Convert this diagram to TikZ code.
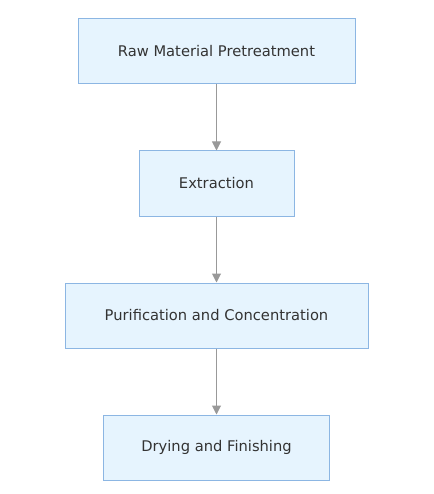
\documentclass[tikz,border=0pt]{standalone}
\usepackage{fontspec}
\setmainfont{DejaVu Sans}
\usetikzlibrary{arrows.meta}
\definecolor{boxfill}{HTML}{E6F4FE}
\definecolor{boxline}{HTML}{8CB6E3}
\definecolor{arrowc}{HTML}{999999}
\begin{document}
\begin{tikzpicture}[x=1pt,y=-1pt,
  stepbox/.style={draw=boxline, fill=boxfill, line width=1pt, minimum height=65pt, inner sep=0pt, font=\fontsize{14.7}{17}\selectfont, text=black!80},
  flow/.style={draw=arrowc, line width=1pt, -{Triangle[length=9pt,width=9pt]}}]
\useasboundingbox (0,0) rectangle (433,494);
\node[stepbox, minimum width=277pt] (a) at (216.5,51.5) {Raw Material Pretreatment};
\node[stepbox, minimum width=155pt] (b) at (216.5,183.5) {Extraction};
\node[stepbox, minimum width=303pt] (c) at (216.5,315.5) {Purification and Concentration};
\node[stepbox, minimum width=226pt] (d) at (216.5,447.5) {Drying and Finishing};
\draw[flow] (a) -- (b);
\draw[flow] (b) -- (c);
\draw[flow] (c) -- (d);
\end{tikzpicture}
\end{document}
